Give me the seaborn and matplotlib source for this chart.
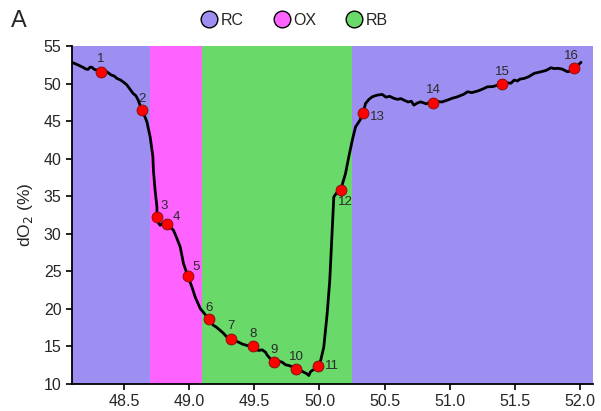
import matplotlib
matplotlib.use("Agg")
import matplotlib.pyplot as plt
from matplotlib.lines import Line2D
import numpy as np
import pandas as pd
import seaborn as sns

# Dissolved oxygen trace (time, dO2 %)
trace_t = [48.108, 48.150, 48.185, 48.205, 48.223, 48.240, 48.254, 48.270, 48.292, 48.321,
           48.345, 48.367, 48.400, 48.425, 48.444, 48.470, 48.492, 48.520, 48.546, 48.569,
           48.590, 48.608, 48.636, 48.655, 48.675, 48.700, 48.721, 48.725, 48.738, 48.752,
           48.752, 48.765, 48.777, 48.800, 48.828, 48.855, 48.879, 48.905, 48.931, 48.956,
           48.990, 49.021, 49.046, 49.085, 49.120, 49.154, 49.170, 49.187, 49.210, 49.238,
           49.260, 49.290, 49.323, 49.350, 49.379, 49.410, 49.444, 49.487, 49.510, 49.533,
           49.560, 49.585, 49.600, 49.623, 49.654, 49.680, 49.713, 49.740, 49.764, 49.790,
           49.821, 49.850, 49.879, 49.900, 49.918, 49.930, 49.944, 49.965, 49.987, 50.010,
           50.033, 50.059, 50.079, 50.098, 50.110, 50.130, 50.162, 50.200, 50.225, 50.252,
           50.277, 50.310, 50.333, 50.354, 50.380, 50.405, 50.440, 50.482, 50.510, 50.540,
           50.572, 50.600, 50.625, 50.648, 50.680, 50.705, 50.725, 50.750, 50.777, 50.820,
           50.850, 50.875, 50.910, 50.940, 50.982, 51.020, 51.059, 51.090, 51.110, 51.136,
           51.170, 51.213, 51.250, 51.290, 51.330, 51.370, 51.405, 51.440, 51.470, 51.495,
           51.520, 51.540, 51.572, 51.610, 51.648, 51.700, 51.740, 51.777, 51.800, 51.828,
           51.860, 51.905, 51.930, 51.956, 51.985, 52.008]
trace_do2 = [52.77, 52.45, 52.16, 51.95, 51.89, 52.20, 52.16, 51.90, 51.80, 51.57,
             51.70, 51.57, 51.15, 51.00, 50.69, 50.50, 50.24, 49.85, 49.23, 48.69,
             48.40, 47.80, 46.47, 45.80, 44.91, 42.91, 40.24, 38.47, 35.80, 33.57,
             32.24, 31.40, 31.13, 31.45, 31.36, 30.90, 30.47, 29.40, 28.24, 26.03,
             24.33, 22.91, 21.57, 20.03, 19.30, 18.60, 18.10, 17.80, 17.55, 17.13,
             16.80, 16.24, 16.03, 15.75, 15.57, 15.30, 15.13, 15.00, 14.60, 14.47,
             14.55, 14.24, 13.80, 13.36, 12.96, 13.05, 12.91, 12.55, 12.47, 12.30,
             11.97, 11.85, 11.57, 11.40, 11.13, 11.60, 11.80, 12.00, 12.33, 13.20,
             14.91, 19.36, 23.80, 30.47, 34.91, 35.40, 35.80, 38.03, 40.24, 42.47,
             44.24, 45.10, 46.03, 47.36, 47.90, 48.24, 48.45, 48.56, 48.20, 48.30,
             48.03, 47.90, 48.00, 47.80, 47.55, 47.65, 47.13, 47.40, 47.57, 47.30,
             47.55, 47.44, 47.60, 47.55, 47.80, 48.05, 48.24, 48.45, 48.60, 48.91,
             48.80, 49.00, 49.25, 49.57, 49.60, 49.80, 49.89, 50.10, 50.05, 50.47,
             50.35, 50.60, 50.69, 50.95, 51.36, 51.57, 51.75, 52.11, 52.00, 52.03,
             51.95, 51.57, 51.70, 52.11, 52.45, 52.83]

# Numbered sampling points
point_t = [48.321, 48.636, 48.752, 48.828, 48.990, 49.154, 49.323, 49.487,
           49.654, 49.821, 49.987, 50.162, 50.333, 50.875, 51.405, 51.956]
point_do2 = [51.57, 46.47, 32.24, 31.36, 24.33, 18.60, 16.03, 15.00,
             12.96, 11.97, 12.33, 35.80, 46.03, 47.44, 49.89, 52.11]
point_labels = [str(i) for i in range(1, 17)]

# Phases shaded in the background
phase_names = ["RC", "OX", "RB", "RC"]
phase_start = [48.1, 48.7, 49.1, 50.25]
phase_end = [48.7, 49.1, 50.25, 52.1]
phase_colors = {"RC": "#9d8ff2", "OX": "#ff63ff", "RB": "#69d96a"}

x_ticks = [48.5, 49.0, 49.5, 50.0, 50.5, 51.0, 51.5, 52.0]
y_ticks = [10, 15, 20, 25, 30, 35, 40, 45, 50, 55]

sns.set_style("ticks")
plt.rcParams["font.family"] = ["Liberation Sans", "DejaVu Sans"]

fig = plt.figure(figsize=(6.01, 4.11), dpi=100)
ax = fig.add_axes([0.1198, 0.0657, 0.8669, 0.8223])

for name, a, b in zip(phase_names, phase_start, phase_end):
    ax.axvspan(a, b, color=phase_colors[name], lw=0, zorder=0)

trace = pd.DataFrame({"t": trace_t, "do2": trace_do2})
sns.lineplot(data=trace, x="t", y="do2", color="black", lw=2.0, ax=ax,
             sort=False, estimator=None, zorder=2)

pts = pd.DataFrame({"t": point_t, "do2": point_do2})
sns.scatterplot(data=pts, x="t", y="do2", color="#ff0000", edgecolor="#7a1010",
                linewidth=0.6, s=62, ax=ax, zorder=3)

# Label offsets in points (dx, dy) and horizontal alignment per point
label_offsets = [(0, 9.0), (0, 8.0), (2.5, 7.8), (4.2, 5.0), (3.5, 7.0), (0, 8.5),
                 (0, 9.0), (0, 9.0), (0, 8.6), (0, 8.8), (5.5, 0), (-2.2, -8.8),
                 (5.0, -2.9), (0, 9.4), (0, 8.6), (-2.2, 8.6)]
label_ha = ["center", "center", "left", "left", "left", "center", "center", "center",
            "center", "center", "left", "left", "left", "center", "center", "center"]
for lab, t, v, off, ha in zip(point_labels, point_t, point_do2, label_offsets, label_ha):
    ax.annotate(lab, (t, v), xytext=off, textcoords="offset points",
                ha=ha, va="center", fontsize=9.5, color="#2a2a2a", zorder=4)

ax.set_xlim(48.1, 52.1)
ax.set_ylim(10, 55)
ax.set_xticks(x_ticks)
ax.set_xticklabels([f"{v:.1f}" for v in x_ticks])
ax.set_yticks(y_ticks)
ax.tick_params(axis="both", labelsize=11.5, length=4, width=1.2, color="black",
               direction="out")
ax.set_xlabel("")
ax.set_ylabel("dO$_2$ (%)", fontsize=12.5, labelpad=6)
sns.despine(ax=ax)
for side in ("left", "bottom"):
    ax.spines[side].set_linewidth(1.3)
    ax.spines[side].set_color("black")

handles = [Line2D([], [], marker="o", ls="", markersize=12,
                  markerfacecolor=phase_colors[n], markeredgecolor="black",
                  markeredgewidth=1.0, label=n) for n in ["RC", "OX", "RB"]]
fig.legend(handles=handles, loc="center", bbox_to_anchor=(0.49, 0.951), ncol=3,
           frameon=False, fontsize=11.5, handlelength=1.0, handletextpad=0.2,
           columnspacing=1.9)

fig.text(0.018, 0.948, "A", fontsize=17, ha="left", va="center")

fig.savefig("out.png", dpi=100)
